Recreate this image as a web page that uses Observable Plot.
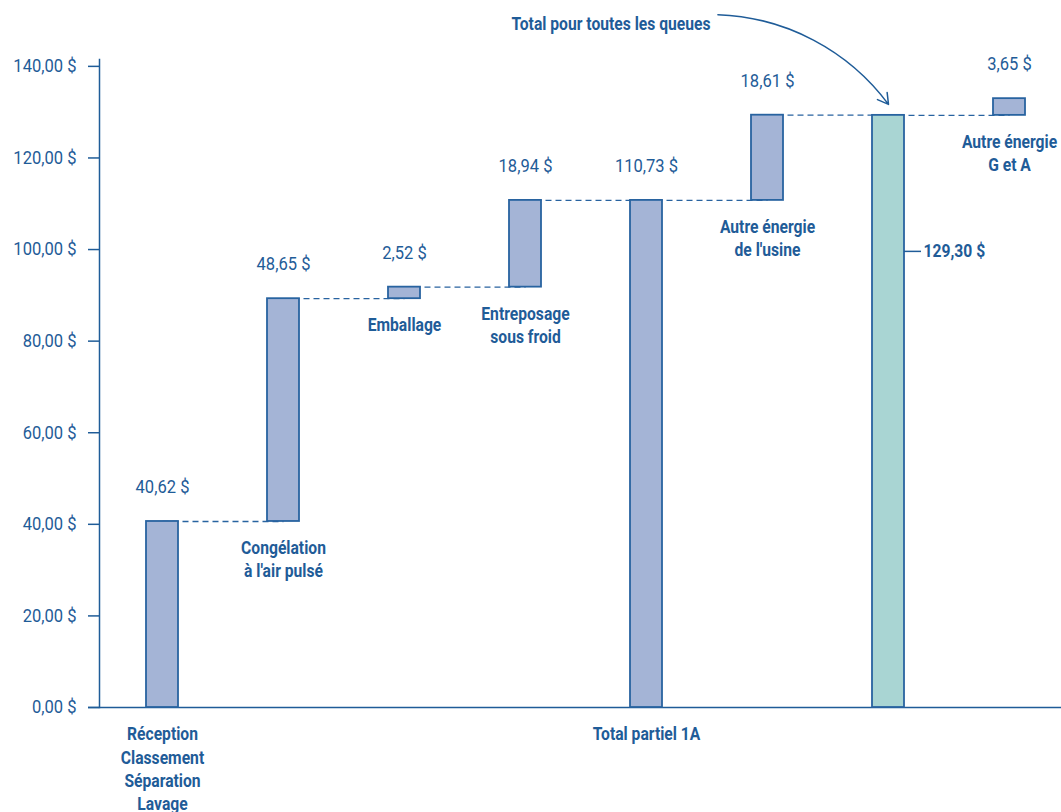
<!DOCTYPE html>
<html><head><meta charset="utf-8">
<script src="https://cdn.jsdelivr.net/npm/d3@7"></script>
<script src="https://cdn.jsdelivr.net/npm/@observablehq/plot@0.6"></script>
<style>
body{margin:0;background:#fff;}
#chart svg{display:block;}
</style></head><body><div id="chart"></div>
<script>
// ---- data ----
const categories = [
  "Réception\nClassement\nSéparation\nLavage",
  "Congélation\nà l'air pulsé",
  "Emballage",
  "Entreposage\nsous froid",
  "Total partiel 1A",
  "Autre énergie\nde l'usine",
  "Total pour toutes les queues",
  "Autre énergie\nG et A"
];
const values = [40.62, 48.65, 2.52, 18.94, 110.73, 18.61, 129.30, 3.65];
const kinds = ["step", "step", "step", "step", "subtotal", "step", "total", "step"];
const yTicks = [0, 20, 40, 60, 80, 100, 120, 140];

// ---- styles ----
const BLUE = "#1f5c98";
const EDGE = "#2863a0";
const PERI = "#a4b4d6";
const TEAL = "#a9d5d3";
const FONT = "Roboto, 'Liberation Sans', sans-serif";
const SQUEEZE_REG = 0.92;  // horizontal condensation, regular text
const SQUEEZE_BOLD = 0.87; // horizontal condensation, bold text

const fmt = v => v.toFixed(2).replace(".", ",") + " $";

let running = 0;
const rows = categories.map((c, i) => {
  const v = values[i];
  let start, end;
  if (kinds[i] === "step") { start = running; end = running + v; }
  else { start = 0; end = v; }
  running = end;
  return {cat: c, value: v, kind: kinds[i], start, end, label: fmt(v)};
});
const links = rows.slice(0, -1).map((r, i) => ({x1: r.cat, x2: rows[i + 1].cat, y: r.end}));
const grand = rows.find(r => r.kind === "total");
const sub = rows.find(r => r.kind === "subtotal");
const annoY = 149.3;      // annotation text level (value units)
const grandLabelY = 99.6; // leader label level (value units)

const chart = Plot.plot({
  width: 1061,
  height: 812,
  marginLeft: 99,
  marginRight: 0,
  marginTop: 59,
  marginBottom: 105,
  style: {fontFamily: FONT, fontSize: "18px", color: BLUE, background: "white", overflow: "visible"},
  x: {type: "band", domain: categories, paddingInner: 0.7368, paddingOuter: 0.325, align: 0.57, axis: null},
  y: {domain: [0, 141.5], axis: null},
  marks: [
    Plot.axisY({ticks: yTicks, tickFormat: fmt, tickSize: 11, tickPadding: 12, strokeWidth: 1.5, fontSize: 18, fill: BLUE, stroke: BLUE}),
    Plot.frame({anchor: "left", stroke: BLUE, strokeWidth: 1.5}),
    Plot.ruleY([0], {stroke: BLUE, strokeWidth: 1.5, insetLeft: -11}),
    Plot.link(links, {x1: "x1", x2: "x2", y1: "y", y2: "y", stroke: EDGE, strokeWidth: 1.3, strokeDasharray: "6,4"}),
    Plot.barY(rows.filter(r => r.kind !== "total"), {x: "cat", y1: "start", y2: "end", fill: PERI, stroke: EDGE, strokeWidth: 1.8}),
    Plot.barY([grand], {x: "cat", y1: "start", y2: "end", fill: TEAL, stroke: EDGE, strokeWidth: 1.8}),
    Plot.text(rows.filter(r => r.kind !== "total"), {x: "cat", y: "end", text: "label", dy: -34, fill: BLUE, fontSize: 18}),
    Plot.text(rows.filter(r => r.kind !== "total"), {x: "cat", y: "start", text: "cat", dy: 16, lineAnchor: "top", lineHeight: 1.3, fill: BLUE, fontSize: 18, fontWeight: "bold"}),
    Plot.tickY([grand], {x: "cat", y: () => grandLabelY, dx: 32, insetRight: 15, stroke: BLUE, strokeWidth: 1.5}),
    Plot.text([grand], {x: "cat", y: () => grandLabelY, text: "label", dx: 35, textAnchor: "start", fill: BLUE, fontSize: 18, fontWeight: "bold"}),
    Plot.text([grand], {x: () => sub.cat, y: () => annoY, text: "cat", dx: 64, textAnchor: "end", fill: BLUE, fontSize: 18, fontWeight: "bold"}),
    Plot.arrow([grand], {x1: () => sub.cat, y1: () => annoY, x2: "cat", y2: d => d.end + 2.4, insetStart: 72, bend: 35, headLength: 12, stroke: BLUE, strokeWidth: 1.5})
  ]
});
// condense glyphs horizontally around each text's anchor point
chart.querySelectorAll("text").forEach(t => {
  const wEl = t.closest("[font-weight]");
  const s = wEl && wEl.getAttribute("font-weight") === "bold" ? SQUEEZE_BOLD : SQUEEZE_REG;
  const tr = t.getAttribute("transform");
  if (tr) {
    t.setAttribute("transform", tr + ` scale(${s},1)`);
  } else {
    const x = +(t.getAttribute("x") || 0), y = +(t.getAttribute("y") || 0);
    t.removeAttribute("x"); t.removeAttribute("y");
    t.setAttribute("transform", `translate(${x},${y}) scale(${s},1)`);
  }
  t.querySelectorAll("tspan[x]").forEach(sp => sp.setAttribute("x", +sp.getAttribute("x") / s));
});
document.getElementById("chart").appendChild(chart);
</script>
</body></html>
